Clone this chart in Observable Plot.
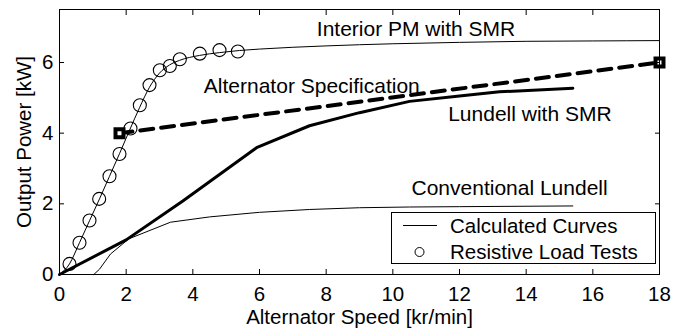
<!DOCTYPE html>
<html>
<head>
<meta charset="utf-8">
<script src="https://cdn.jsdelivr.net/npm/d3@7"></script>
<script src="https://cdn.jsdelivr.net/npm/@observablehq/plot@0.6"></script>
<style>
  body { margin: 0; background: #fff; }
  #wrap { position: relative; width: 686px; height: 330px; font-family: "Liberation Sans", Arial, Helvetica, sans-serif; }
  #legend { position: absolute; left: 390px; top: 211px; }
</style>
</head>
<body>
<div id="wrap"></div>
<script>
// ---- data ----
const xTicks = [0, 2, 4, 6, 8, 10, 12, 14, 16, 18];
const yTicks = [0, 2, 4, 6];

// Interior PM with SMR (calculated curve)
const speedPM = [0, 0.3, 0.6, 0.9, 1.2, 1.5, 1.8, 2.1, 2.4, 2.7, 3.0, 3.3, 3.6, 4.2, 4.8, 5.4, 6, 8, 10, 12, 14, 16, 18];
const powerPM = [0, 0.3, 0.9, 1.52, 2.14, 2.78, 3.42, 4.08, 4.72, 5.3, 5.7, 5.93, 6.06, 6.2, 6.28, 6.34, 6.38, 6.47, 6.53, 6.57, 6.6, 6.61, 6.62];

// Resistive load tests (circles)
const speedTest = [0.3, 0.6, 0.9, 1.19, 1.5, 1.8, 2.13, 2.41, 2.7, 3.01, 3.31, 3.61, 4.21, 4.8, 5.35];
const powerTest = [0.3, 0.9, 1.53, 2.14, 2.78, 3.41, 4.13, 4.79, 5.36, 5.78, 5.9, 6.09, 6.25, 6.35, 6.31];

// Lundell with SMR (thick curve)
const speedLS = [0, 2, 3.7, 5.93, 7.5, 9, 10.5, 12, 13.2, 15.4];
const powerLS = [0, 0.98, 2.08, 3.6, 4.21, 4.58, 4.9, 5.05, 5.17, 5.27];

// Conventional Lundell (thin curve)
const speedCL = [1.03, 1.2, 1.53, 2.08, 3.33, 4.5, 6, 7.5, 9, 10.5, 12, 15.4];
const powerCL = [0, 0.15, 0.58, 1.01, 1.48, 1.63, 1.76, 1.84, 1.89, 1.91, 1.92, 1.94];

// Alternator specification (dashed with square ends)
const speedSpec = [1.8, 18];
const powerSpec = [4, 6];

// Curve annotations
const labelText = ["Interior PM with SMR", "Alternator Specification", "Lundell with SMR", "Conventional Lundell"];
const labelX = [7.72, 4.33, 11.66, 10.56];
const labelY = [6.95, 5.32, 4.54, 2.45];

const legendLabels = ["Calculated Curves", "Resistive Load Tests"];

// ---- build tables ----
const zipXY = (xs, ys) => xs.map((x, i) => ({x, y: ys[i]}));
const pm = zipXY(speedPM, powerPM);
const tests = zipXY(speedTest, powerTest);
const ls = zipXY(speedLS, powerLS);
const cl = zipXY(speedCL, powerCL);
const spec = zipXY(speedSpec, powerSpec);
const labels = labelText.map((t, i) => ({text: t, x: labelX[i], y: labelY[i]}));

const FONT = '"Liberation Sans", Arial, Helvetica, sans-serif';
const FS = 20.5;

const chart = Plot.plot({
  width: 686,
  height: 330,
  marginLeft: 59,
  marginRight: 27,
  marginTop: 9,
  marginBottom: 56,
  style: {fontFamily: FONT, fontSize: FS + "px", background: "white", color: "black", overflow: "visible"},
  x: {domain: [0, 18]},
  y: {domain: [0, 7.5]},
  marks: [
    Plot.line(cl, {x: "x", y: "y", stroke: "black", strokeWidth: 1}),
    Plot.line(pm, {x: "x", y: "y", stroke: "black", strokeWidth: 1, curve: "monotone-x"}),
    Plot.line(ls, {x: "x", y: "y", stroke: "black", strokeWidth: 3}),
    Plot.line(spec, {x: "x", y: "y", stroke: "black", strokeWidth: 4, strokeDasharray: "13,8"}),
    Plot.dot(spec, {x: "x", y: "y", symbol: "square", r: 4.5, stroke: "black", strokeWidth: 4, fill: "white"}),
    Plot.dot(tests, {x: "x", y: "y", r: 6.5, stroke: "black", strokeWidth: 1.1, fill: "none"}),
    Plot.text(labels, {x: "x", y: "y", text: "text", textAnchor: "start", fontSize: 21, fill: "black"}),
    Plot.frame({stroke: "black", strokeWidth: 1}),
    Plot.axisX(xTicks, {anchor: "bottom", tickSize: 0, tickPadding: 12, label: "Alternator Speed [kr/min]", labelAnchor: "center", labelOffset: 49, labelArrow: "none"}),
    Plot.axisX(xTicks, {anchor: "bottom", tickSize: 5, dy: -5, fill: "none", label: null}),
    Plot.axisX(xTicks, {anchor: "top", tickSize: 5, dy: 5, fill: "none", label: null}),
    Plot.axisY(yTicks, {anchor: "left", tickSize: 0, tickPadding: 6, label: "Output Power [kW]", labelAnchor: "center", labelOffset: 43, labelArrow: "none"}),
    Plot.axisY(yTicks, {anchor: "left", tickSize: 5, dx: 5, fill: "none", label: null}),
    Plot.axisY(yTicks, {anchor: "right", tickSize: 5, dx: -5, fill: "none", label: null})
  ]
});

const wrap = document.getElementById("wrap");
wrap.appendChild(chart);

// ---- legend (inside the plot area, lower right) ----
const lg = d3.select(wrap).append("svg")
  .attr("id", "legend")
  .attr("width", 267).attr("height", 54)
  .style("font-family", FONT).style("font-size", FS + "px");
lg.append("rect").attr("x", 1.5).attr("y", 1.5).attr("width", 264).attr("height", 51)
  .attr("fill", "white").attr("stroke", "black").attr("stroke-width", 1);
lg.append("line").attr("x1", 13).attr("x2", 47).attr("y1", 14.5).attr("y2", 14.5)
  .attr("stroke", "black").attr("stroke-width", 1);
lg.append("circle").attr("cx", 29.5).attr("cy", 41).attr("r", 4.5)
  .attr("fill", "none").attr("stroke", "black").attr("stroke-width", 1);
lg.selectAll("text.lab").data(legendLabels).join("text")
  .attr("class", "lab")
  .attr("x", 60)
  .attr("y", (d, i) => i === 0 ? 21.7 : 48.3)
  .attr("fill", "black")
  .text(d => d);
</script>
</body>
</html>
